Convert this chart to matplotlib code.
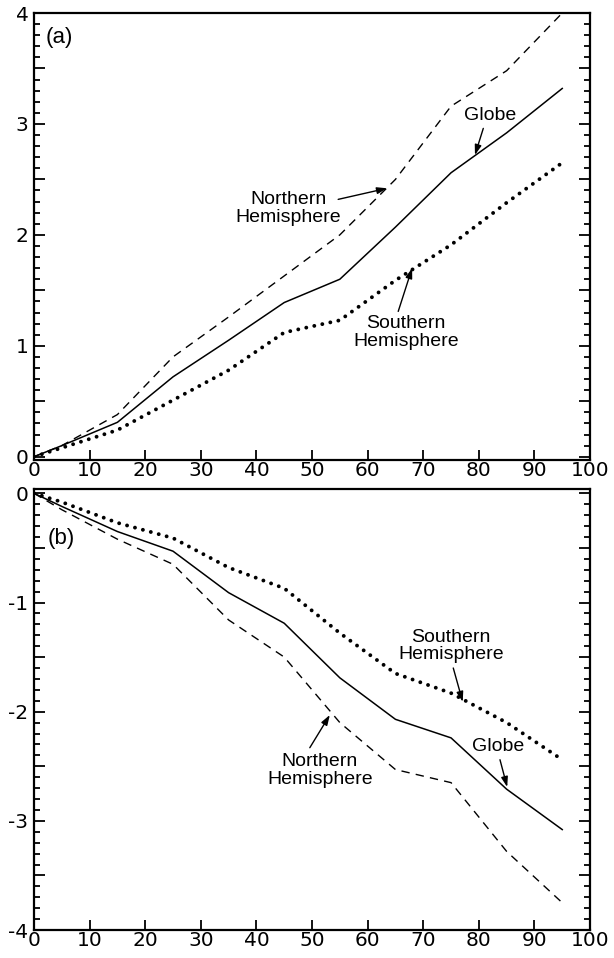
import matplotlib
matplotlib.use("Agg")
import matplotlib.pyplot as plt
from matplotlib.ticker import MultipleLocator, FuncFormatter

plt.rcParams['axes.unicode_minus'] = False

# Data
x = [0, 5, 15, 25, 35, 45, 55, 65, 75, 85, 95]

globe_a = [0, 0.10, 0.31, 0.72, 1.05, 1.39, 1.60, 2.07, 2.56, 2.92, 3.32]
north_a = [0, 0.10, 0.38, 0.90, 1.26, 1.63, 2.00, 2.50, 3.16, 3.48, 4.00]
south_a = [0, 0.08, 0.24, 0.51, 0.78, 1.12, 1.23, 1.59, 1.91, 2.29, 2.65]

globe_b = [0, -0.12, -0.35, -0.53, -0.91, -1.19, -1.69, -2.07, -2.24, -2.71, -3.08]
north_b = [0, -0.15, -0.42, -0.65, -1.16, -1.50, -2.10, -2.53, -2.65, -3.28, -3.75]
south_b = [0, -0.08, -0.27, -0.41, -0.68, -0.87, -1.28, -1.65, -1.83, -2.10, -2.44]

xticks = list(range(0, 101, 10))

tick_font = dict(family='Liberation Sans Narrow', size=14.5)
label_font = dict(family='Liberation Sans', size=14)

fig = plt.figure(figsize=(6.14, 9.58), dpi=100)
ax_a = fig.add_axes([0.0554, 0.5198, 0.9056, 0.4666])
ax_b = fig.add_axes([0.0554, 0.0292, 0.9056, 0.4604])


def int_only(v, pos):
    if abs(v - round(v)) < 1e-6:
        return '%d' % round(v)
    return ''


def style_axes(ax, ylim):
    ax.set_xlim(0, 100)
    ax.set_ylim(*ylim)
    ax.set_xticks(xticks)
    ax.yaxis.set_major_locator(MultipleLocator(0.5))
    ax.yaxis.set_minor_locator(MultipleLocator(0.1))
    ax.yaxis.set_major_formatter(FuncFormatter(int_only))
    ax.tick_params(which='both', direction='in', left=True, right=True,
                   top=False, bottom=True, width=1.3, color='black')
    ax.tick_params(axis='y', which='major', length=8, pad=4)
    ax.tick_params(axis='y', which='minor', length=4)
    ax.tick_params(axis='x', which='major', length=7, pad=1)
    for lab in ax.get_xticklabels() + ax.get_yticklabels():
        lab.set_fontfamily(tick_font['family'])
        lab.set_fontsize(tick_font['size'])
    for sp in ax.spines.values():
        sp.set_linewidth(1.6)


def draw_lines(ax, g, n, s):
    ax.plot(x, g, color='black', lw=1.1, solid_joinstyle='round')
    ax.plot(x, n, color='black', lw=1.0, linestyle=(0, (6, 4.5)))
    ax.plot(x, s, color='black', lw=2.8, linestyle=(0, (0.01, 2.1)),
            dash_capstyle='round')


def arrow(ax, tail, tip):
    ax.annotate('', xy=tip, xytext=tail,
                arrowprops=dict(arrowstyle='-|>,head_length=0.6,head_width=0.2',
                                color='black', lw=1.0, shrinkA=0, shrinkB=0))


# Panel (a)
draw_lines(ax_a, globe_a, north_a, south_a)
style_axes(ax_a, (-0.03, 4.0))
ax_a.text(2.0, 3.78, '(a)', fontsize=16, family='Liberation Sans', va='center')
ax_a.text(82.0, 3.08, 'Globe', ha='center', va='center', **label_font)
arrow(ax_a, (80.8, 2.96), (79.3, 2.72))
ax_a.text(45.7, 2.24, 'Northern\nHemisphere', ha='center', va='center',
          linespacing=1.05, **label_font)
arrow(ax_a, (54.7, 2.32), (63.5, 2.42))
ax_a.text(66.9, 1.12, 'Southern\nHemisphere', ha='center', va='center',
          linespacing=1.05, **label_font)
arrow(ax_a, (65.5, 1.31), (68.0, 1.70))

# Panel (b)
draw_lines(ax_b, globe_b, north_b, south_b)
style_axes(ax_b, (-4.0, 0.04))
ax_b.text(2.5, -0.41, '(b)', fontsize=16, family='Liberation Sans', va='center')
ax_b.text(75.0, -1.40, 'Southern\nHemisphere', ha='center', va='center',
          linespacing=1.05, **label_font)
arrow(ax_b, (75.4, -1.60), (77.1, -1.91))
ax_b.text(83.5, -2.32, 'Globe', ha='center', va='center', **label_font)
arrow(ax_b, (83.8, -2.44), (85.1, -2.69))
ax_b.text(51.4, -2.54, 'Northern\nHemisphere', ha='center', va='center',
          linespacing=1.05, **label_font)
arrow(ax_b, (49.6, -2.33), (53.2, -2.03))

fig.savefig('out.png', dpi=100)
